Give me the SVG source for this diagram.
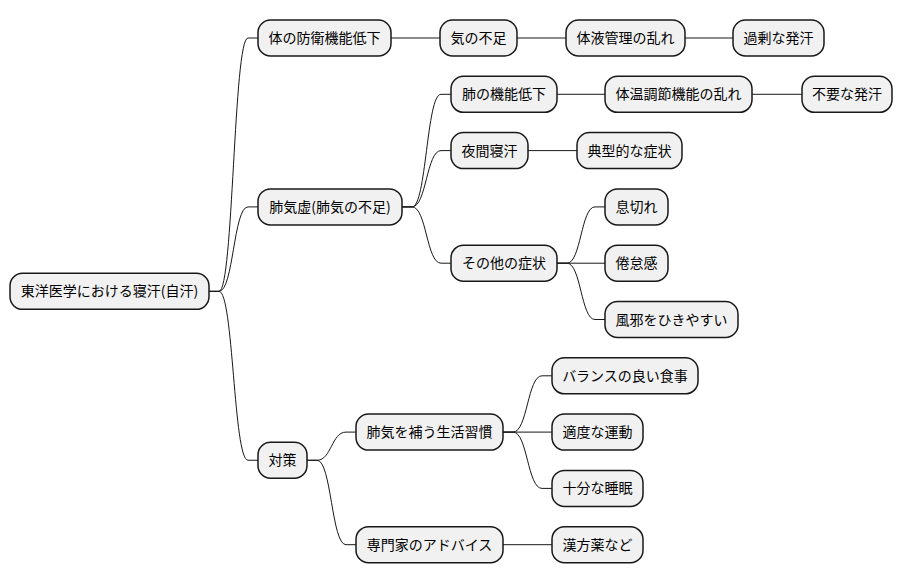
<svg xmlns="http://www.w3.org/2000/svg" width="902" height="583" viewBox="0 0 902 583">
<style>
.n rect{fill:#F1F1F1;stroke:#181818;stroke-width:1.5}
.n text{font-family:"Noto Sans CJK JP","Noto Sans",sans-serif;font-size:14px;fill:#000;text-anchor:middle}
#connectors path{fill:none;stroke:#181818;stroke-width:1}
</style>
<rect width="902" height="583" fill="#FFFFFF"/>
<g id="connectors">
<path d="M209,291.35 L219,291.35 C233.5,291.35 233.5,38 248,38 L258,38"/>
<path d="M209,291.35 L219,291.35 C233.5,291.35 233.5,206.9 248,206.9 L258,206.9"/>
<path d="M209,291.35 L219,291.35 C233.5,291.35 233.5,460.25 248,460.25 L258,460.25"/>
<path d="M391,38 L440,38"/>
<path d="M517,38 L566,38"/>
<path d="M685,38 L733,38"/>
<path d="M402,206.9 L412,206.9 C426.5,206.9 426.5,94.3 441,94.3 L451,94.3"/>
<path d="M402,206.9 L412,206.9 C426.5,206.9 426.5,150.6 441,150.6 L451,150.6"/>
<path d="M402,206.9 L412,206.9 C426.5,206.9 426.5,263.2 441,263.2 L451,263.2"/>
<path d="M557,94.3 L605,94.3"/>
<path d="M752,94.3 L802,94.3"/>
<path d="M528,150.6 L577,150.6"/>
<path d="M557,263.2 L567,263.2 C581,263.2 581,206.9 595,206.9 L605,206.9"/>
<path d="M557,263.2 L605,263.2"/>
<path d="M557,263.2 L567,263.2 C581,263.2 581,319.5 595,319.5 L605,319.5"/>
<path d="M307,460.25 L317,460.25 C331.5,460.25 331.5,432.1 346,432.1 L356,432.1"/>
<path d="M307,460.25 L317,460.25 C331.5,460.25 331.5,544.7 346,544.7 L356,544.7"/>
<path d="M503,432.1 L513,432.1 C527.5,432.1 527.5,375.8 542,375.8 L552,375.8"/>
<path d="M503,432.1 L552,432.1"/>
<path d="M503,432.1 L513,432.1 C527.5,432.1 527.5,488.4 542,488.4 L552,488.4"/>
<path d="M503,544.7 L552,544.7"/>
</g>
<g id="root" class="n"><rect x="10" y="273.35" width="199" height="36" rx="12.5"/><text x="109.5" y="296.35">東洋医学における寝汗(自汗)</text></g>
<g id="n1" class="n"><rect x="258" y="20" width="133" height="36" rx="12.5"/><text x="324.5" y="43">体の防衛機能低下</text></g>
<g id="n2" class="n"><rect x="258" y="188.9" width="144" height="36" rx="12.5"/><text x="330" y="211.9">肺気虚(肺気の不足)</text></g>
<g id="n3" class="n"><rect x="258" y="442.25" width="49" height="36" rx="12.5"/><text x="282.5" y="465.25">対策</text></g>
<g id="n11" class="n"><rect x="440" y="20" width="77" height="36" rx="12.5"/><text x="478.5" y="43">気の不足</text></g>
<g id="n111" class="n"><rect x="566" y="20" width="119" height="36" rx="12.5"/><text x="625.5" y="43">体液管理の乱れ</text></g>
<g id="n1111" class="n"><rect x="733" y="20" width="91" height="36" rx="12.5"/><text x="778.5" y="43">過剰な発汗</text></g>
<g id="n21" class="n"><rect x="451" y="76.3" width="106" height="36" rx="12.5"/><text x="504" y="99.3">肺の機能低下</text></g>
<g id="n211" class="n"><rect x="605" y="76.3" width="147" height="36" rx="12.5"/><text x="678.5" y="99.3">体温調節機能の乱れ</text></g>
<g id="n2111" class="n"><rect x="802" y="76.3" width="90" height="36" rx="12.5"/><text x="847" y="99.3">不要な発汗</text></g>
<g id="n22" class="n"><rect x="451" y="132.6" width="77" height="36" rx="12.5"/><text x="489.5" y="155.6">夜間寝汗</text></g>
<g id="n221" class="n"><rect x="577" y="132.6" width="105" height="36" rx="12.5"/><text x="629.5" y="155.6">典型的な症状</text></g>
<g id="n23" class="n"><rect x="451" y="245.2" width="106" height="36" rx="12.5"/><text x="504" y="268.2">その他の症状</text></g>
<g id="n231" class="n"><rect x="605" y="188.9" width="63" height="36" rx="12.5"/><text x="636.5" y="211.9">息切れ</text></g>
<g id="n232" class="n"><rect x="605" y="245.2" width="63" height="36" rx="12.5"/><text x="636.5" y="268.2">倦怠感</text></g>
<g id="n233" class="n"><rect x="605" y="301.5" width="133" height="36" rx="12.5"/><text x="671.5" y="324.5">風邪をひきやすい</text></g>
<g id="n31" class="n"><rect x="356" y="414.1" width="147" height="36" rx="12.5"/><text x="429.5" y="437.1">肺気を補う生活習慣</text></g>
<g id="n311" class="n"><rect x="552" y="357.8" width="146" height="36" rx="12.5"/><text x="625" y="380.8">バランスの良い食事</text></g>
<g id="n312" class="n"><rect x="552" y="414.1" width="91" height="36" rx="12.5"/><text x="597.5" y="437.1">適度な運動</text></g>
<g id="n313" class="n"><rect x="552" y="470.4" width="91" height="36" rx="12.5"/><text x="597.5" y="493.4">十分な睡眠</text></g>
<g id="n32" class="n"><rect x="356" y="526.7" width="147" height="36" rx="12.5"/><text x="429.5" y="549.7">専門家のアドバイス</text></g>
<g id="n321" class="n"><rect x="552" y="526.7" width="91" height="36" rx="12.5"/><text x="597.5" y="549.7">漢方薬など</text></g>
</svg>
